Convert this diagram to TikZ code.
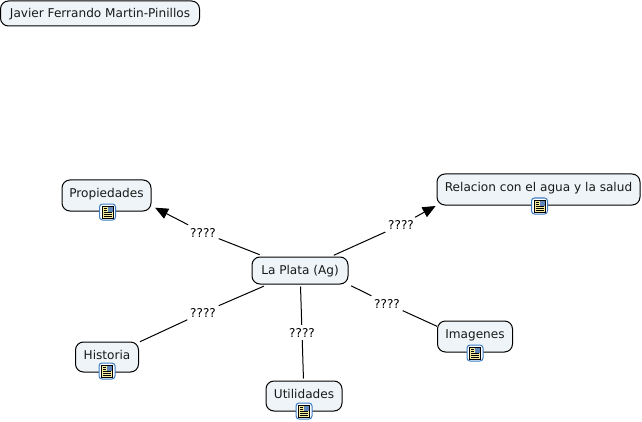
\documentclass[tikz,border=0pt]{standalone}
\usepackage{fontspec}
\setmainfont{DejaVu Sans}
\usetikzlibrary{arrows.meta}
\definecolor{conceptfill}{HTML}{EEF4F7}
\definecolor{iconblue}{HTML}{3B7CC4}
\definecolor{iconpage}{HTML}{F4EC9C}
\definecolor{iconimg}{HTML}{5F86B8}
\tikzset{
  x=1pt,y=-1pt,
  concept/.style={draw=black,fill=conceptfill,rounded corners=8pt,line width=1pt,font=\fontsize{12.1}{14}\selectfont,text=black!90,minimum height=#1,inner sep=0pt,anchor=center,text height=11pt,text depth=2.5pt},
  withicon/.style={text height=11pt,text depth=7pt},
  linklabel/.style={font=\fontsize{12.1}{14}\selectfont,text=black,inner sep=0pt,minimum width=31pt,minimum height=15pt,text height=10.5pt,text depth=1pt},
  link/.style={draw=black,line width=1pt},
  arrowlink/.style={link,-{Triangle[length=13pt,width=11pt]}},
  pics/docicon/.style={code={
    \draw[iconblue,fill=white,line width=1pt,rounded corners=3pt] (-8,-8) rectangle (8,8);
    \draw[black,fill=iconpage,line width=0.9pt] (-5.5,-6) rectangle (5.5,6);
    \fill[iconimg] (0,-5.5) rectangle (5,-0.5);
    \draw[black,line width=0.7pt] (-4,-4) -- (-1,-4) (-4,-2) -- (-1,-2) (-4,0.8) -- (4,0.8) (-4,2.6) -- (4,2.6) (-4,4.4) -- (4,4.4);
  }}
}
\begin{document}
\begin{tikzpicture}
\useasboundingbox (0,0) rectangle (642,422);
\node[concept=25pt,minimum width=199pt] (title) at (100,13.5) {Javier Ferrando Martin-Pinillos};
\node[concept=31pt,minimum width=89pt,withicon] (prop) at (106.5,195.5) {Propiedades};
\node[concept=31pt,minimum width=203pt,withicon] (rel) at (538.5,189.5) {Relacion con el agua y la salud};
\node[concept=27pt,minimum width=96pt] (plata) at (300,270.5) {La Plata (Ag)};
\node[concept=31pt,minimum width=75pt,withicon] (img) at (475,336.5) {Imagenes};
\node[concept=30pt,minimum width=63pt,withicon] (hist) at (107,357) {Historia};
\node[concept=30pt,minimum width=76pt,withicon] (util) at (304,396) {Utilidades};

\node[linklabel] (l1) at (203,232.5) {????};
\node[linklabel] (l2) at (401,225) {????};
\node[linklabel] (l3) at (203,312.5) {????};
\node[linklabel] (l4) at (302,332.5) {????};
\node[linklabel] (l5) at (387,303.5) {????};

\draw[link,shorten <=5pt] (plata) -- (l1);
\draw[arrowlink,shorten >=4pt] (l1) -- (prop.-13);
\draw[link,shorten <=3pt] (plata) -- (l2);
\draw[arrowlink,shorten >=1pt] (l2) -- (rel.south west);
\draw[link,shorten <=4pt] (plata) -- (l3);
\draw[link,shorten >=1pt] (l3) -- (hist);
\draw[link,shorten <=2pt] (plata) -- (l4);
\draw[link,shorten >=2pt] (l4) -- (util);
\draw[link,shorten <=3pt] (plata.south east) -- (l5);
\draw[link] (l5) -- (img.165);

\pic at (107.5,212) {docicon};
\pic at (539.5,206) {docicon};
\pic at (475,353) {docicon};
\pic at (107,371) {docicon};
\pic at (304,411) {docicon};
\end{tikzpicture}
\end{document}
